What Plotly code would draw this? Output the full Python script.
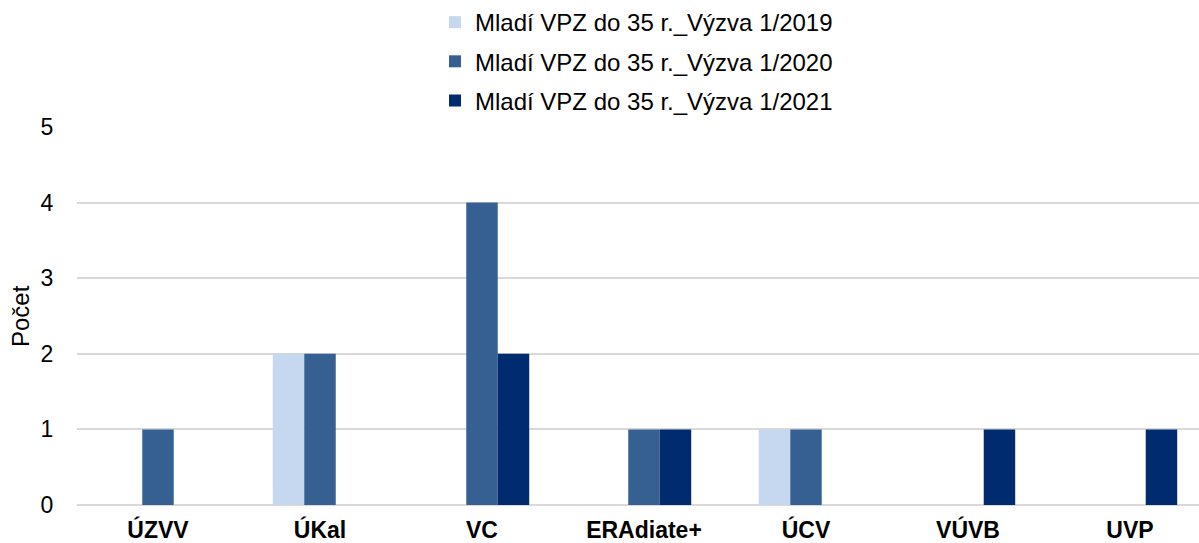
import plotly.graph_objects as go

categories = ["ÚZVV", "ÚKal", "VC", "ERAdiate+", "ÚCV", "VÚVB", "UVP"]
series_names = ["Mladí VPZ do 35 r._Výzva 1/2019",
                "Mladí VPZ do 35 r._Výzva 1/2020",
                "Mladí VPZ do 35 r._Výzva 1/2021"]
v2019 = [0, 2, 0, 0, 1, 0, 0]
v2020 = [1, 2, 4, 1, 1, 0, 0]
v2021 = [0, 0, 2, 1, 0, 1, 1]
colors = ["#C6D8F0", "#376092", "#002B6F"]
y_title = "Počet"

font_family = "Liberation Sans, Arial, sans-serif"

fig = go.Figure()
for i, (name, vals) in enumerate(zip(series_names, [v2019, v2020, v2021])):
    fig.add_trace(go.Bar(
        x=categories, y=vals, name=name,
        marker=dict(color=colors[i], line=dict(width=0)),
        legendgroup=f"g{i}",
    ))

fig.update_layout(
    width=1199, height=543,
    paper_bgcolor="white", plot_bgcolor="white",
    barmode="group", bargap=0.417, bargroupgap=0,
    margin=dict(l=77, r=0, t=127, b=38, autoexpand=False),
    font=dict(family=font_family, size=24, color="#000000"),
    legend=dict(
        orientation="v", x=0.3628, xanchor="left", xref="container",
        y=1.0, yanchor="top", yref="container",
        font=dict(size=24), traceorder="grouped",
        tracegroupgap=5, bgcolor="rgba(0,0,0,0)",
    ),
    showlegend=True,
    annotations=[dict(
        text=y_title, textangle=-90, showarrow=False,
        xref="paper", yref="paper", x=-57 / 1122, y=0.5,
        xanchor="center", yanchor="middle",
        font=dict(size=24, family=font_family, color="#000000"),
    )],
)
fig.update_xaxes(
    type="category", range=[-0.5, 6.426],
    showgrid=False, showline=False,
    ticks="outside", ticklen=4, tickcolor="rgba(0,0,0,0)",
    tickfont=dict(size=23, family=font_family, weight="bold"),
)
fig.update_yaxes(
    range=[0, 5], dtick=1, showgrid=True, gridcolor="#D9D9D9", gridwidth=2,
    zeroline=True, zerolinecolor="#D9D9D9", zerolinewidth=2,
    showline=False, ticks="outside", ticklen=18, tickcolor="rgba(0,0,0,0)",
    tickfont=dict(size=23),
)

fig.write_html("out.html", post_script="document.body.style.margin='0';",
               config={"displayModeBar": False})
